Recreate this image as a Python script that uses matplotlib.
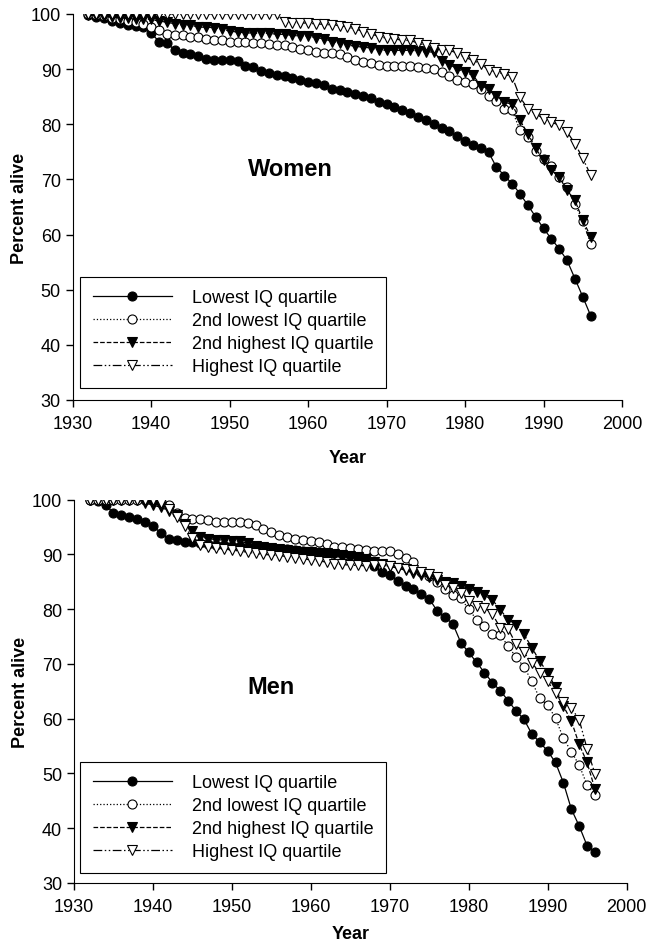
import matplotlib
matplotlib.use('Agg')
import matplotlib.pyplot as plt

plt.rcParams['font.family'] = ['Liberation Sans', 'DejaVu Sans']

years = list(range(1932, 1997))

# Women, percent alive per year
w_low = [99.8, 99.5, 99.2, 98.8, 98.3, 98.0, 97.8, 97.6, 96.5, 95.0,
         94.8, 93.4, 93.0, 92.8, 92.4, 91.8, 91.6, 91.6, 91.6, 91.5,
         90.6, 90.3, 89.6, 89.2, 89.0, 88.8, 88.4, 88.0, 87.7, 87.4,
         87.2, 86.4, 86.2, 85.8, 85.5, 85.1, 84.8, 84.1, 83.6, 83.2,
         82.6, 82.0, 81.3, 80.7, 80.0, 79.4, 78.7, 77.9, 76.9, 76.3,
         75.6, 74.9, 72.2, 70.7, 69.2, 67.4, 65.3, 63.2, 61.1, 59.2,
         57.4, 55.3, 52.0, 48.7, 45.3]
w_low2 = [100, 99.8, 99.6, 99.3, 99.0, 98.8, 98.5, 98.2, 97.6, 97.1,
          96.4, 96.2, 96.1, 95.9, 95.8, 95.5, 95.3, 95.2, 95.0, 94.9,
          94.9, 94.7, 94.7, 94.6, 94.3, 94.3, 94.0, 93.7, 93.4, 93.1,
          92.9, 92.9, 92.8, 92.2, 91.7, 91.3, 91.1, 90.8, 90.6, 90.5,
          90.5, 90.5, 90.3, 90.2, 90.0, 89.4, 88.8, 88.0, 87.6, 87.3,
          86.4, 85.2, 84.3, 82.8, 82.5, 78.9, 77.7, 75.2, 73.7, 72.5,
          70.5, 68.6, 65.5, 62.5, 58.3]
w_high2 = [99.8, 99.6, 99.5, 99.4, 99.3, 99.2, 99.1, 99.1, 99.0, 98.7,
           98.5, 98.2, 98.0, 98.0, 97.6, 97.6, 97.5, 97.2, 96.9, 96.7,
           96.6, 96.5, 96.5, 96.5, 96.3, 96.3, 96.1, 96.0, 96.0, 95.7,
           95.5, 95.0, 94.7, 94.4, 94.1, 94.0, 93.8, 93.5, 93.4, 93.4,
           93.4, 93.4, 93.3, 93.1, 93.1, 91.5, 90.8, 90.1, 89.4, 88.9,
           87.0, 86.4, 85.2, 84.0, 83.6, 80.7, 78.3, 75.6, 73.5, 71.7,
           70.4, 68.0, 66.2, 62.6, 59.6]
w_high = [100, 100, 100, 100, 100, 100, 100, 100, 100, 100,
          100, 100, 100, 100, 100, 100, 100, 100, 100, 100,
          100, 100, 100, 100, 100, 98.6, 98.4, 98.4, 98.3, 98.2,
          98.1, 98.0, 97.9, 97.6, 97.3, 96.8, 96.4, 95.9, 95.6, 95.5,
          95.2, 95.2, 94.7, 94.3, 93.8, 93.5, 93.4, 92.9, 92.1, 91.6,
          90.9, 89.9, 89.5, 89.1, 88.6, 84.9, 82.8, 81.9, 81.0, 80.4,
          79.8, 78.6, 76.5, 73.8, 70.8]

# Men, percent alive per year
m_low = [100, 99.8, 99.0, 97.6, 97.2, 96.8, 96.4, 96.0, 95.2, 93.9,
         92.9, 92.6, 92.3, 92.2, 92.0, 91.9, 91.8, 91.7, 91.6, 91.5,
         91.4, 91.3, 91.3, 91.2, 91.0, 90.9, 90.8, 90.6, 90.5, 90.4,
         90.3, 90.2, 90.1, 89.9, 89.5, 88.9, 87.8, 86.8, 86.3, 85.2,
         84.3, 83.7, 82.8, 81.9, 79.7, 78.5, 77.3, 73.9, 72.1, 70.3,
         68.4, 66.6, 65.1, 63.3, 61.4, 59.9, 57.2, 55.7, 54.1, 52.0,
         48.3, 43.5, 40.4, 36.8, 35.7]
m_low2 = [100, 100, 100, 100, 100, 100, 100, 100, 100, 99.5,
          99.0, 97.6, 96.6, 96.4, 96.4, 96.2, 96.0, 95.9, 95.9, 95.9,
          95.8, 95.3, 94.7, 94.1, 93.5, 93.2, 92.9, 92.6, 92.4, 92.3,
          91.9, 91.4, 91.3, 91.1, 91.0, 90.8, 90.7, 90.7, 90.7, 90.0,
          89.3, 88.7, 86.8, 86.0, 84.9, 83.7, 82.5, 82.0, 80.0, 78.1,
          76.9, 75.4, 75.2, 73.3, 71.2, 69.5, 66.8, 63.7, 62.5, 60.1,
          56.4, 54.0, 51.5, 47.9, 46.1]
m_high2 = [100, 100, 100, 100, 100, 100, 100, 99.4, 99.0, 98.6,
           98.0, 97.2, 95.5, 94.3, 93.2, 92.9, 92.7, 92.6, 92.5, 92.4,
           92.0, 91.6, 91.3, 91.1, 90.9, 90.8, 90.7, 90.5, 90.4, 90.3,
           90.2, 90.1, 89.9, 89.7, 89.5, 89.2, 88.7, 88.2, 87.8, 87.5,
           87.1, 86.6, 86.2, 85.8, 85.3, 85.0, 84.8, 84.3, 83.7, 83.2,
           82.5, 81.7, 79.9, 78.1, 77.2, 75.4, 73.0, 70.5, 68.4, 65.7,
           62.3, 59.6, 55.3, 52.0, 47.1]
m_high = [100, 100, 100, 100, 100, 100, 100, 100, 100, 99.3,
          98.3, 96.8, 95.2, 93.0, 91.8, 91.4, 91.2, 91.0, 90.8, 90.6,
          90.4, 90.2, 90.0, 89.9, 89.8, 89.6, 89.4, 89.2, 89.0, 88.8,
          88.6, 88.3, 88.2, 88.0, 88.0, 87.9, 88.0, 88.0, 87.9, 87.6,
          87.4, 87.1, 86.8, 86.5, 85.9, 84.5, 83.9, 83.0, 81.5, 80.6,
          80.3, 79.1, 76.6, 76.4, 73.6, 72.1, 70.2, 68.4, 66.9, 64.7,
          63.0, 62.0, 59.8, 54.5, 49.9]

labels = ['Lowest IQ quartile', '2nd lowest IQ quartile',
          '2nd highest IQ quartile', 'Highest IQ quartile']

# (marker, face colour, linestyle, marker size)
styles = [('o', 'black', '-', 6.5),
          ('o', 'white', ':', 6.5),
          ('v', 'black', '--', 7),
          ('v', 'white', (0, (7, 2, 1.2, 2, 1.2, 2)), 7)]


def draw_panel(ax, series, title, title_xy, legend_anchor, xpad):
    for vals, lab, (mk, fc, ls, ms) in zip(series, labels, styles):
        ax.plot(years, vals, color='black', linestyle=ls, linewidth=0.9,
                marker=mk, markersize=ms, markerfacecolor=fc,
                markeredgecolor='black', markeredgewidth=0.8, label=lab)
    ax.set_xlim(1930, 2000)
    ax.set_ylim(30, 100)
    ax.set_xticks(range(1930, 2001, 10))
    ax.set_yticks(range(30, 101, 10))
    ax.spines['top'].set_visible(False)
    ax.spines['right'].set_visible(False)
    ax.tick_params(direction='out', length=5, width=1, labelsize=13)
    ax.tick_params(axis='x', pad=6)
    ax.set_xlabel('Year', fontsize=13, fontweight='bold', labelpad=xpad)
    ax.set_ylabel('Percent alive', fontsize=13, fontweight='bold', labelpad=2)
    ax.text(title_xy[0], title_xy[1], title, fontsize=17, fontweight='bold',
            ha='center', va='center')
    leg = ax.legend(loc='upper left', bbox_to_anchor=legend_anchor,
                    borderaxespad=0, fontsize=13, handlelength=4.4,
                    handletextpad=1.1, labelspacing=0.33, borderpad=0.7,
                    fancybox=False, framealpha=1, numpoints=1)
    leg.get_frame().set_edgecolor('black')
    leg.get_frame().set_linewidth(0.8)


fig = plt.figure(figsize=(6.47, 9.45), dpi=100)
ax1 = fig.add_axes([0.1124, 0.5757, 0.849, 0.4085])
ax2 = fig.add_axes([0.1144, 0.0646, 0.854, 0.4056])

draw_panel(ax1, [w_low, w_low2, w_high2, w_high], 'Women', (1957.8, 71.9),
           (0.013, 0.319), 12)
draw_panel(ax2, [m_low, m_low2, m_high2, m_high], 'Men', (1955, 65.8),
           (0.011, 0.316), 7)

fig.savefig('out.png', dpi=100)
